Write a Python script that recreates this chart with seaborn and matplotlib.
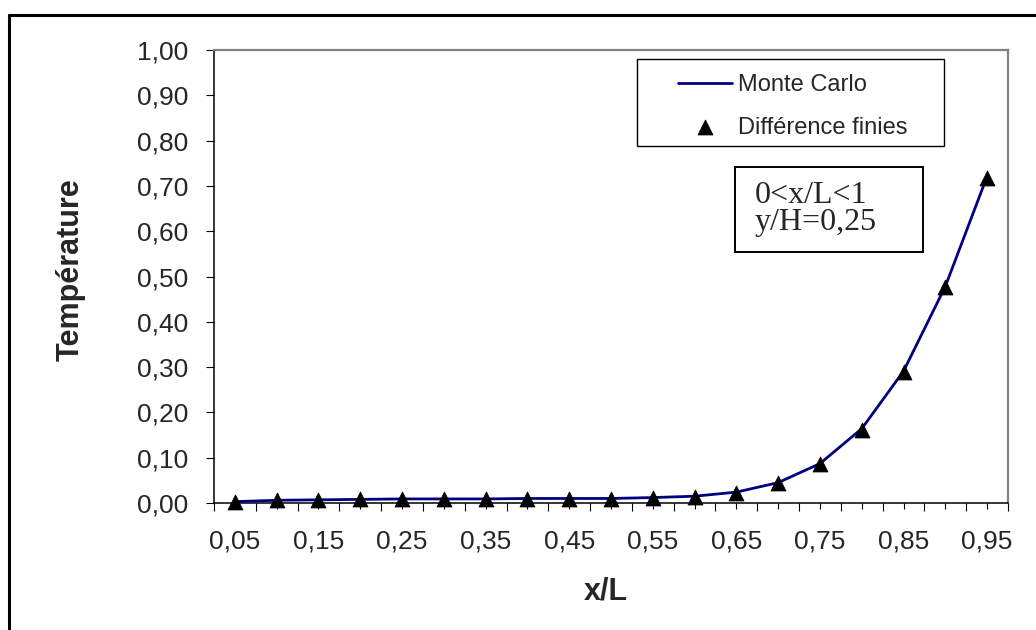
import numpy as np
import pandas as pd
import matplotlib
matplotlib.use("Agg")
import matplotlib.pyplot as plt
from matplotlib.patches import Rectangle
from matplotlib.lines import Line2D
from matplotlib.ticker import FixedLocator, FuncFormatter
import seaborn as sns

# Position along the plate (categories) and temperature profiles at y/H = 0.25
x_over_L = [0.05, 0.10, 0.15, 0.20, 0.25, 0.30, 0.35, 0.40, 0.45, 0.50,
            0.55, 0.60, 0.65, 0.70, 0.75, 0.80, 0.85, 0.90, 0.95]
monte_carlo = [0.003, 0.006, 0.007, 0.008, 0.009, 0.009, 0.009, 0.010, 0.010, 0.010,
               0.012, 0.015, 0.024, 0.045, 0.087, 0.164, 0.291, 0.478, 0.721]
diff_finies = [0.003, 0.006, 0.007, 0.008, 0.009, 0.009, 0.009, 0.009, 0.009, 0.009,
               0.011, 0.014, 0.023, 0.044, 0.086, 0.162, 0.289, 0.476, 0.718]
y_ticks = [0.0, 0.1, 0.2, 0.3, 0.4, 0.5, 0.6, 0.7, 0.8, 0.9, 1.0]

sns.set_style("white")
plt.rcParams["font.family"] = ["Liberation Sans", "DejaVu Sans"]

W, H = 1036, 630
fig = plt.figure(figsize=(W / 100, H / 100), dpi=100)
fig.patch.set_facecolor("white")
ax = fig.add_axes([214 / W, 1 - 503 / H, (1008 - 214) / W, (503 - 50) / H])

pos = np.arange(len(x_over_L))
df = pd.DataFrame({"pos": pos, "mc": monte_carlo, "fd": diff_finies})

sns.lineplot(data=df, x="pos", y="mc", color="#000080", linewidth=2.0,
             ax=ax, label="Monte Carlo", zorder=3)
sns.scatterplot(data=df, x="pos", y="fd", marker="^", s=115, color="black",
                edgecolor="black", linewidth=0.6, ax=ax,
                label="Différence finies", zorder=4, clip_on=False)

ax.set_xlim(-0.5, len(x_over_L) - 0.5)
ax.set_ylim(0, 1)

def comma(v):
    return f"{v:.2f}".replace(".", ",")

# Category axis: labels on every other category, ticks at centres and boundaries
ax.xaxis.set_major_locator(FixedLocator(pos))
ax.set_xticklabels([comma(v) if i % 2 == 0 else "" for i, v in enumerate(x_over_L)])
ax.xaxis.set_minor_locator(FixedLocator(np.arange(-0.5, len(x_over_L), 1.0)))
ax.set_yticks(y_ticks)
ax.yaxis.set_major_formatter(FuncFormatter(lambda v, p: comma(v)))

ax.tick_params(axis="x", which="major", direction="out", length=4.3, width=0.8,
               color="black", pad=14.5, labelsize=19, bottom=True)
ax.tick_params(axis="x", which="minor", direction="out", length=5.8, width=0.8,
               color="black", bottom=True)
ax.tick_params(axis="y", which="major", direction="out", length=5.8, width=0.8,
               color="black", pad=13, labelsize=19, left=True)

for side in ("left", "bottom"):
    ax.spines[side].set_color("black")
    ax.spines[side].set_linewidth(1.1)
for side in ("top", "right"):
    ax.spines[side].set_color("#808080")
    ax.spines[side].set_linewidth(1.6)

ax.set_xlabel("x/L", fontsize=22, fontweight="bold")
ax.set_ylabel("Température", fontsize=22, fontweight="bold")
ax.xaxis.set_label_coords((606 - 214) / 794, (503 - 576) / 453)
ax.yaxis.set_label_coords((86 - 214) / 794, (503 - 270) / 453)

ax.legend(loc="center left", bbox_to_anchor=(666 / W, 1 - 106.5 / H),
          bbox_transform=fig.transFigure, frameon=False, borderpad=0,
          handlelength=2.29, handletextpad=0.25, labelspacing=0.85, fontsize=17)

# Legend frame
fig.add_artist(Rectangle((637 / W, 1 - 146 / H), (944 - 637) / W, (146 - 59) / H,
                         transform=fig.transFigure, fill=False,
                         edgecolor="black", linewidth=1.0))

# Annotation box with the profile location
fig.add_artist(Rectangle((735 / W, 1 - 252 / H), (923 - 735) / W, (252 - 167) / H,
                         transform=fig.transFigure, fill=False,
                         edgecolor="black", linewidth=1.4))
fig.text(755 / W, 1 - 203 / H, "0<x/L<1", ha="left", va="baseline",
         fontsize=23, family=["Liberation Serif", "DejaVu Serif"])
fig.text(755 / W, 1 - 230 / H, "y/H=0,25", ha="left", va="baseline",
         fontsize=23, family=["Liberation Serif", "DejaVu Serif"])

# Outer chart frame (top and left edges)
fig.add_artist(Line2D([9 / W, 1.0], [1 - 15 / H, 1 - 15 / H],
                      transform=fig.transFigure, color="black", linewidth=2.2))
fig.add_artist(Line2D([9 / W, 9 / W], [1 - 15 / H, 0.0],
                      transform=fig.transFigure, color="black", linewidth=2.2))

fig.savefig("out.png", dpi=100)
